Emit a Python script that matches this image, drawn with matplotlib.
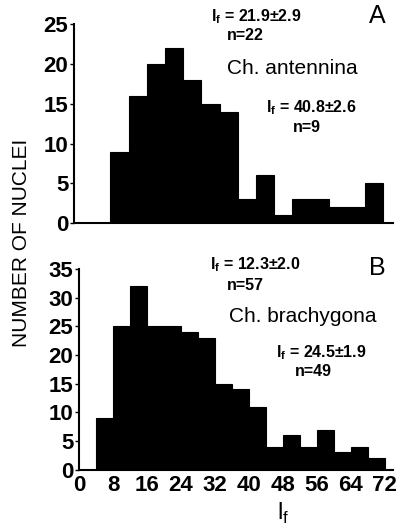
import matplotlib
matplotlib.use("Agg")
import matplotlib.pyplot as plt
import numpy as np

plt.rcParams['font.family'] = ['Liberation Sans', 'DejaVu Sans']

# Data (bin left edges, width 4)
bin_width = 4
a_edges = [8, 12, 16, 20, 24, 28, 32, 36, 40, 44, 48, 52, 56, 60, 64]
a_counts = [9, 16, 20, 22, 18, 15, 14, 3, 6, 1, 3, 3, 2, 2, 5]
b_edges = [4, 8, 12, 16, 20, 24, 28, 32, 36, 40, 44, 48, 52, 56, 60, 64, 68]
b_counts = [9, 25, 32, 25, 25, 24, 23, 15, 14, 11, 4, 6, 4, 7, 3, 4, 2]
a_yticks = [0, 5, 10, 15, 20, 25]
b_yticks = [0, 5, 10, 15, 20, 25, 30, 35]
b_xticks = [0, 8, 16, 24, 32, 40, 48, 56, 64, 72]

W, H = 399, 527
fig = plt.figure(figsize=(W / 100, H / 100), dpi=100)

def px_axes(left, right, top, bottom):
    return fig.add_axes([left / W, 1 - bottom / H, (right - left) / W, (bottom - top) / H])

axA = px_axes(74, 392.5, 24, 223.3)
axB = px_axes(79, 393, 269, 469.7)

for ax, edges, counts, ylim, yt in [(axA, a_edges, a_counts, 25, a_yticks),
                                     (axB, b_edges, b_counts, 35, b_yticks)]:
    ax.bar(edges, counts, width=bin_width, align='edge', color='black',
           edgecolor='black', linewidth=0.8)
    ax.set_ylim(0, ylim)
    ax.set_yticks(yt)
    ax.spines['top'].set_visible(False)
    ax.spines['right'].set_visible(False)
    ax.spines['left'].set_linewidth(1.5)
    ax.spines['bottom'].set_linewidth(1.5)
    ax.tick_params(axis='y', direction='out', length=3, width=1, pad=1,
                   labelsize=16)
    for lab in ax.get_yticklabels():
        lab.set_fontweight('bold')

axA.set_xlim(0, 70)
axA.set_xticks([])
axB.set_xlim(0, 74)
axB.set_xticks(b_xticks)
axB.tick_params(axis='x', length=0, pad=4, labelsize=16)
for lab in axB.get_xticklabels():
    lab.set_fontweight('bold')

def ptext(x, y, s, size, weight='bold', ha='center'):
    fig.text(x / W, 1 - y / H, s, fontsize=size, fontweight=weight,
             ha=ha, va='center')

lf = r'l$_\mathregular{f}$'
# Panel A annotations
ptext(256, 17, lf + ' = 21.9±2.9', 11.5)
ptext(245, 36, 'n=22', 11.5)
ptext(377, 16, 'A', 18, weight='normal')
ptext(292, 68, 'Ch. antennina', 15, weight='normal')
ptext(311, 108, lf + ' = 40.8±2.6', 11.5)
ptext(307, 127, 'n=9', 11.5)

# Panel B annotations
ptext(255, 265, lf + ' = 12.3±2.0', 11.5)
ptext(245, 285, 'n=57', 11.5)
ptext(377, 268, 'B', 18, weight='normal')
ptext(303, 317, 'Ch. brachygona', 15, weight='normal')
ptext(321, 353, lf + ' = 24.5±1.9', 11.5)
ptext(313, 372, 'n=49', 11.5)

# Axis labels
fig.text(22 / W, 1 - 243 / H, 'NUMBER OF NUCLEI', rotation=90, fontsize=15,
         ha='center', va='center')
ptext(283, 513, lf, 17, weight='normal')

fig.savefig('out.png', dpi=100)
